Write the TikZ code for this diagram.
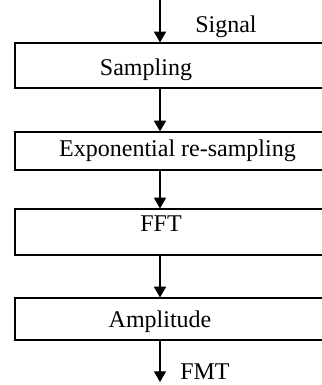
\documentclass[tikz,border=0pt]{standalone}
\usepackage{fontspec}
\setmainfont{Liberation Serif}
\usetikzlibrary{arrows.meta}

\tikzset{
  box/.style={draw, line width=0.9pt, minimum width=243.75pt, inner sep=0pt},
  lbl/.style={anchor=base, inner sep=0pt},
  flow/.style={line width=0.9pt, -{Triangle[width=9pt,length=8pt]}}
}

\begin{document}
\begin{tikzpicture}[x=0.75pt,y=0.75pt,yscale=-1,xscale=1,font=\fontsize{18}{20}\selectfont]
    \useasboundingbox (0,0) rectangle (321,385);

    % Boxes
    \node [box, minimum height=33.75pt] (sampling) at (177.5,65.5) {};
    \node [box, minimum height=28.5pt] (resampling) at (177.5,151) {};
    \node [box, minimum height=34.5pt] (fft) at (177.5,232) {};
    \node [box, minimum height=31.5pt] (amplitude) at (177.5,319) {};

    % Text Node
    \node [lbl] (sampling-t) at (146,75) {Sampling};
    % Text Node
    \node [lbl] (resampling-t) at (177.5,156) {Exponential re-sampling};
    % Text Node
    \node [lbl] (fft-t) at (161,231) {FFT};
    % Text Node
    \node [lbl] (amplitude-t) at (160,327) {Amplitude};
    % Text Node
    \node [lbl, anchor=base west] (signal) at (195,33) {Signal};
    % Text Node
    \node [lbl, anchor=base west] (fmt) at (180,379) {FMT};

    % Arrows
    \coordinate (in) at (160,0);
    \coordinate (out) at (160,382);
    \draw [flow] (in) -- (in |- sampling.north);
    \draw [flow] (in |- sampling.south) -- (in |- resampling.north);
    \draw [flow] (in |- resampling.south) -- (in |- fft.north);
    \draw [flow] (in |- fft.south) -- (in |- amplitude.north);
    \draw [flow] (in |- amplitude.south) -- (out);

\end{tikzpicture}
\end{document}
